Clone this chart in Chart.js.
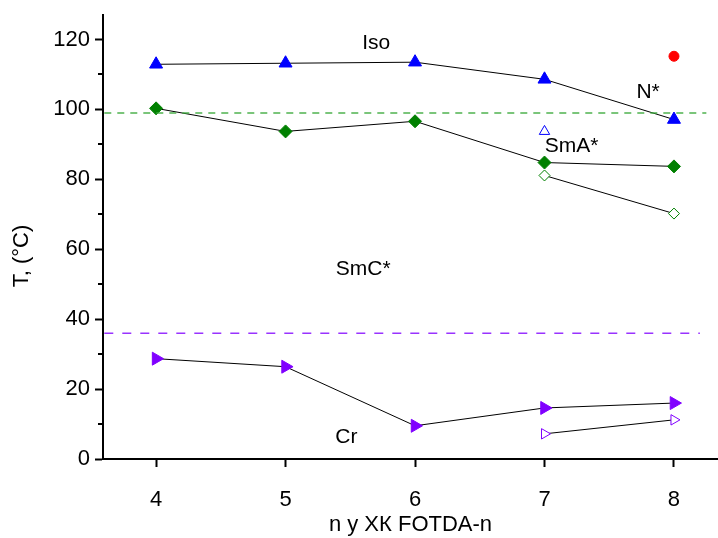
<!DOCTYPE html>
<html>
<head>
<meta charset="utf-8">
<script src="https://cdn.jsdelivr.net/npm/chart.js@4/dist/chart.umd.min.js"></script>
<style>
html,body{margin:0;padding:0;background:#fff;}
#wrap{width:718px;height:538px;position:relative;}
</style>
</head>
<body>
<div id="wrap"><canvas id="c" width="718" height="538"></canvas></div>
<script>
// ---- data ----
const nValues = [4, 5, 6, 7, 8];
const isoT = [112.9, 113.2, 113.5, 108.6, 97.1];          // Iso transition (filled blue triangles)
const smaT = [100.3, 93.7, 96.6, 84.8, 83.7];             // SmA* (filled green diamonds)
const smaOpenN = [7, 8];
const smaOpenT = [81.1, 70.2];                            // open green diamonds
const crN = [4, 5, 6, 7, 8];
const crT = [28.7, 26.4, 9.5, 14.6, 16.0];                // filled violet triangles
const crOpenN = [7, 8];
const crOpenT = [7.2, 11.2];                              // open violet triangles
const blueOpenN = [7];
const blueOpenT = [93.7];                                 // open blue triangle
const redN = [8];
const redT = [115.2];                                     // red dot
const greenLineN = [3.6, 8.25];
const greenLineT = [99, 99];
const violetLineN = [3.6, 8.2];
const violetLineT = [36, 36];
const xTicks = [4, 5, 6, 7, 8];
const yTicks = [0, 20, 40, 60, 80, 100, 120];
const phaseLabels = ['Iso', 'N*', 'SmA*', 'SmC*', 'Cr'];
const phaseLabelN = [5.70, 7.80, 7.21, 5.60, 5.47];
const phaseLabelT = [118.9, 104.9, 89.4, 54.4, 6.3];

const pts = (xs, ys) => xs.map((x, i) => ({x: x, y: ys[i]}));
const FONT = "'Liberation Sans', Arial, sans-serif";

const annot = {
  id: 'annot',
  afterDatasetsDraw(chart) {
    const {ctx, scales: {x, y}} = chart;
    ctx.save();
    // minor ticks
    ctx.strokeStyle = '#000';
    ctx.lineWidth = 2;
    for (let v = 10; v < 127; v += 20) {
      const py = Math.round(y.getPixelForValue(v));
      ctx.beginPath();
      ctx.moveTo(x.left - 5, py);
      ctx.lineTo(x.left, py);
      ctx.stroke();
    }
    // phase labels
    ctx.fillStyle = '#000';
    ctx.font = '21px ' + FONT;
    ctx.textAlign = 'center';
    ctx.textBaseline = 'middle';
    phaseLabels.forEach((t, i) => {
      ctx.fillText(t, x.getPixelForValue(phaseLabelN[i]), y.getPixelForValue(phaseLabelT[i]));
    });
    // y axis title
    ctx.font = '22px ' + FONT;
    ctx.translate(22, 256);
    ctx.rotate(-Math.PI / 2);
    ctx.fillText('T, (\u00B0C)', 0, 0);
    ctx.restore();
  }
};

const lineDs = (data, color, style, radius, rotation, filled, extra) => Object.assign({
  data: data,
  borderColor: '#000',
  borderWidth: 1,
  showLine: true,
  pointStyle: style,
  pointRadius: radius,
  pointHoverRadius: radius,
  pointRotation: rotation,
  pointBackgroundColor: filled ? color : '#fff',
  pointBorderColor: color,
  pointBorderWidth: 1,
  tension: 0
}, extra || {});

new Chart(document.getElementById('c'), {
  type: 'line',
  data: {
    datasets: [
      {data: pts(greenLineN, greenLineT), borderColor: 'rgba(60,170,60,0.9)', borderWidth: 1.5, borderDash: [7, 6], pointRadius: 0},
      {data: pts(violetLineN, violetLineT), borderColor: '#9933ff', borderWidth: 1.5, borderDash: [9, 9], pointRadius: 0},
      lineDs(pts(nValues, isoT), '#0000ff', 'triangle', 7.5, 0, true),
      lineDs(pts(nValues, smaT), '#008000', 'rectRot', 6.5, 0, true),
      lineDs(pts(smaOpenN, smaOpenT), '#008000', 'rectRot', 5.5, 0, false),
      lineDs(pts(crN, crT), '#8000ff', 'triangle', 7.5, 90, true),
      lineDs(pts(crOpenN, crOpenT), '#8000ff', 'triangle', 6, 90, false),
      lineDs(pts(blueOpenN, blueOpenT), '#0000ff', 'triangle', 6, 0, false, {showLine: false}),
      lineDs(pts(redN, redT), '#ff0000', 'circle', 5, 0, true, {showLine: false})
    ]
  },
  options: {
    responsive: false,
    animation: false,
    layout: {autoPadding: false, padding: {top: 15, right: 0, left: 0, bottom: 0}},
    plugins: {legend: {display: false}, tooltip: {enabled: false}},
    scales: {
      x: {
        type: 'linear',
        min: 3.59, max: 8.34,
        afterBuildTicks: (s) => { s.ticks = xTicks.map(v => ({value: v})); },
        afterFit: (s) => { s.height = 79; s.paddingLeft = 0; s.paddingRight = 0; },
        grid: {drawOnChartArea: false, tickLength: 8, tickWidth: 2, tickColor: '#000'},
        border: {color: '#000', width: 2},
        ticks: {color: '#000', font: {family: FONT, size: 22}, padding: 20, maxRotation: 0},
        title: {display: true, text: 'n у ХК FOTDA-n', color: '#000', font: {family: FONT, size: 22}, padding: {top: 4, bottom: 0}}
      },
      y: {
        type: 'linear',
        min: 0, max: 127,
        afterBuildTicks: (s) => { s.ticks = yTicks.map(v => ({value: v})); },
        afterFit: (s) => { s.width = 103; s.paddingTop = 0; s.paddingBottom = 0; },
        grid: {drawOnChartArea: false, tickLength: 8, tickWidth: 2, tickColor: '#000'},
        border: {color: '#000', width: 2},
        ticks: {color: '#000', font: {family: FONT, size: 22}, padding: 5}
      }
    }
  },
  plugins: [annot]
});
</script>
</body>
</html>
